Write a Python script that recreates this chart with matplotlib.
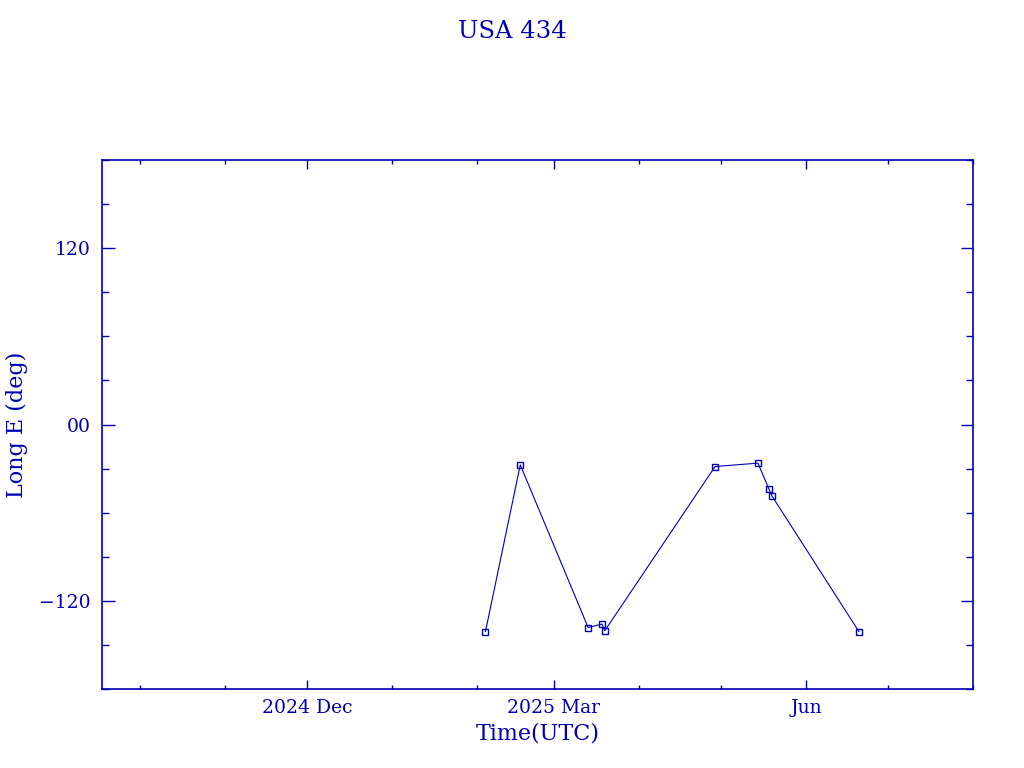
import matplotlib
matplotlib.use("Agg")
import matplotlib.pyplot as plt
import matplotlib.dates as mdates
from matplotlib.ticker import MultipleLocator, FuncFormatter
from datetime import datetime

# Data
dates = ["2025-02-04 00:00", "2025-02-16 17:00", "2025-03-13 12:00", "2025-03-18 12:00",
         "2025-03-19 14:00", "2025-04-28 20:00", "2025-05-14 12:00", "2025-05-18 12:00",
         "2025-05-19 14:00", "2025-06-20 08:00"]
longitude = [-140.9, -27.5, -138.2, -135.8, -140.3, -28.6, -26.3, -44.0, -48.6, -140.9]
title = "USA 434"
xlabel = "Time(UTC)"
ylabel = "Long E (deg)"
xlim = ["2024-09-17", "2025-08-01"]
ylim = [-180, 180]

C = "#0000b0"
plt.rcParams['font.family'] = ['DejaVu Serif']

x = [datetime.strptime(d, "%Y-%m-%d %H:%M") for d in dates]

fig = plt.figure(figsize=(10.24, 7.68), dpi=100)
ax = fig.add_axes([102/1024, 1-689/768, (973-102)/1024, (689-160)/768])

ax.plot(x, longitude, color=C, lw=0.8, marker='s', ms=4, mfc='none', mec=C, mew=1.0)

ax.set_xlim(datetime.strptime(xlim[0], "%Y-%m-%d"), datetime.strptime(xlim[1], "%Y-%m-%d"))
ax.set_ylim(*ylim)

ax.xaxis.set_major_locator(mdates.MonthLocator(bymonth=[3, 6, 9, 12]))
ax.xaxis.set_minor_locator(mdates.MonthLocator())

def xfmt(v, pos):
    d = mdates.num2date(v)
    if d.month == 12 or (d.month == 3 and d.year == 2025):
        return f"{d.year} {d.strftime('%b')}"
    return d.strftime('%b')
ax.xaxis.set_major_formatter(FuncFormatter(xfmt))

ax.yaxis.set_major_locator(MultipleLocator(120))
ax.yaxis.set_minor_locator(MultipleLocator(30))

def yfmt(v, pos):
    if abs(v) < 1e-9:
        return "00"
    return f"{int(round(v))}".replace("-", "\u2212")
ax.yaxis.set_major_formatter(FuncFormatter(yfmt))

ax.tick_params(axis='x', which='major', direction='in', length=6.5, width=1, color=C,
               top=True, bottom=True, labelsize=13.5, labelcolor=C, pad=7)
ax.tick_params(axis='x', which='minor', direction='in', length=3.2, width=1, color=C,
               top=True, bottom=True)
ax.tick_params(axis='y', which='major', direction='in', length=9, width=1, color=C,
               left=True, right=True, labelsize=13.5, labelcolor=C, pad=8)
ax.tick_params(axis='y', which='minor', direction='in', length=4.8, width=1, color=C,
               left=True, right=True)

for s in ax.spines.values():
    s.set_color(C)
    s.set_linewidth(1.2)

ax.set_xlabel(xlabel, fontsize=16, color=C, labelpad=4)
ax.set_ylabel(ylabel, fontsize=16, color=C, va='center')
ax.yaxis.set_label_coords((17 - 102) / 871, 0.5)
fig.text(0.5, 1-31/768, title, ha='center', va='center', fontsize=17.5, color=C)

fig.savefig("out.png", dpi=100)
